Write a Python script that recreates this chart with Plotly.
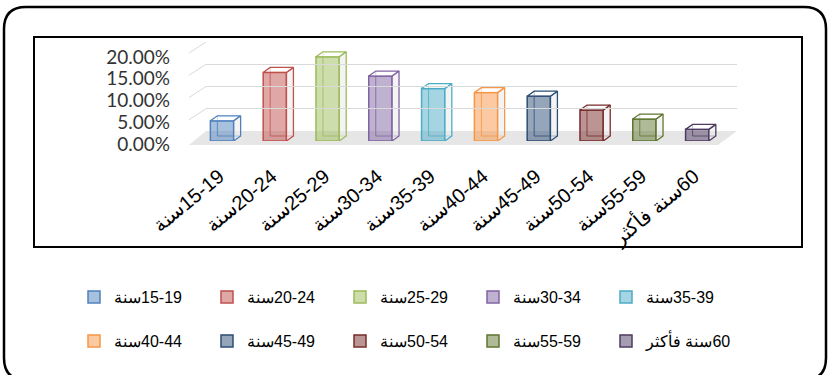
import plotly.graph_objects as go

# ---------------- data ----------------
categories = ["15-19سنة", "20-24سنة", "25-29سنة", "30-34سنة", "35-39سنة",
              "40-44سنة", "45-49سنة", "50-54سنة", "55-59سنة", "60سنة فأكثر"]
shares = [0.045, 0.153, 0.188, 0.145, 0.117, 0.108, 0.100, 0.069, 0.049, 0.026]
edge_colors = ["#4F81BD", "#C0504D", "#9BBB59", "#8064A2", "#4BACC6",
               "#F79646", "#2C4D75", "#772C2A", "#5F7530", "#4D3B62"]
y_ticks = [0, 0.05, 0.10, 0.15, 0.20]
y_tick_labels = ["0.00%", "5.00%", "10.00%", "15.00%", "20.00%"]

# ---------------- geometry helpers ----------------
W, H = 828, 375
def fx(px):
    return px / W
def fy(py):
    return 1 - py / H

RLM = "\u200f"  # display the Arabic/number labels right-to-left like the source

def rgba(hexc, a):
    hexc = hexc.lstrip("#")
    r, g, b = int(hexc[0:2], 16), int(hexc[2:4], 16), int(hexc[4:6], 16)
    return f"rgba({r},{g},{b},{a})"

n = len(categories)
bar_w = 0.44
px_per_unit_y = 448.0
px_per_cat = 52.8
dx = 7 / px_per_cat
dy = 5 / px_per_unit_y

fig = go.Figure()

# front faces (legend entries)
for i, (cat, v, c) in enumerate(zip(categories, shares, edge_colors)):
    fig.add_trace(go.Bar(
        x=[i], y=[v], width=bar_w, name=RLM + cat,
        marker=dict(color=rgba(c, 0.5), line=dict(color=c, width=1.5)),
        legend="legend" if i < 5 else "legend2",
        hoverinfo="skip",
    ))

# 3-D faces computed from the same values
for i, (v, c) in enumerate(zip(shares, edge_colors)):
    xl, xr = i - bar_w / 2, i + bar_w / 2
    fig.add_trace(go.Scatter(
        x=[xl + dx, xl + dx, xr + dx], y=[v + dy, dy, dy], mode="lines",
        line=dict(color=rgba(c, 0.8), width=1), showlegend=False, hoverinfo="skip"))
    fig.add_trace(go.Scatter(
        x=[xr, xr + dx, xr + dx, xr, xr], y=[0, dy, v + dy, v, 0], mode="lines",
        fill="toself", fillcolor="rgba(235,235,235,0.55)",
        line=dict(color=c, width=1.3), showlegend=False, hoverinfo="skip"))
    fig.add_trace(go.Scatter(
        x=[xl, xr, xr + dx, xl + dx, xl], y=[v, v, v + dy, v + dy, v], mode="lines",
        fill="toself", fillcolor="rgba(255,255,255,0.6)",
        line=dict(color=c, width=1.3), showlegend=False, hoverinfo="skip"))

# dummy traces so the helper axes are drawn
fig.add_trace(go.Scatter(x=[None], y=[None], xaxis="x", yaxis="y2",
                         showlegend=False, hoverinfo="skip"))
fig.add_trace(go.Scatter(x=[None], y=[None], xaxis="x3", yaxis="y3",
                         showlegend=False, hoverinfo="skip"))

# ---------------- decorations ----------------
shapes = []
L, R, T, B, r = 4, 826, 7, 380, 22
path = (f"M {fx(L + r)},{fy(T)} L {fx(R - r)},{fy(T)} Q {fx(R)},{fy(T)} {fx(R)},{fy(T + r)} "
        f"L {fx(R)},{fy(B - r)} Q {fx(R)},{fy(B)} {fx(R - r)},{fy(B)} "
        f"L {fx(L + r)},{fy(B)} Q {fx(L)},{fy(B)} {fx(L)},{fy(B - r)} "
        f"L {fx(L)},{fy(T + r)} Q {fx(L)},{fy(T)} {fx(L + r)},{fy(T)} Z")
shapes.append(dict(type="path", xref="paper", yref="paper", path=path,
                   line=dict(color="black", width=2.5), layer="below"))
shapes.append(dict(type="rect", xref="paper", yref="paper",
                   x0=fx(34), x1=fx(802), y0=fy(247), y1=fy(37),
                   line=dict(color="black", width=2), layer="below"))
floor = (f"M {fx(189)},{fy(145)} L {fx(718)},{fy(145)} L {fx(737)},{fy(131)} "
         f"L {fx(206)},{fy(131)} Z")
shapes.append(dict(type="path", xref="paper", yref="paper", path=floor,
                   fillcolor="#e6e6e6", line=dict(width=0), layer="below"))
for t in y_ticks[1:]:
    shapes.append(dict(type="line", xref="paper", yref="y3",
                       x0=fx(189), y0=t - 11 / 445, x1=fx(206), y1=t,
                       line=dict(color="#d9d9d9", width=1), layer="below"))

fig.update_layout(
    width=W, height=H, autosize=False,
    margin=dict(l=0, r=0, t=0, b=0, pad=0, autoexpand=False),
    paper_bgcolor="white", plot_bgcolor="rgba(0,0,0,0)",
    barmode="overlay",
    shapes=shapes,
    xaxis=dict(domain=[fx(195.6), fx(723.6)], range=[-0.5, n - 0.5],
               tickvals=list(range(n)), ticktext=[RLM + c for c in categories],
               tickangle=-40, showgrid=False, zeroline=False, showline=False,
               ticks="", ticklabelstandoff=19, ticklabelshift=-3,
               tickfont=dict(family="Liberation Sans", size=20, color="black"),
               anchor="y", automargin=False, fixedrange=True),
    yaxis=dict(domain=[fy(141), fy(41)], range=[0, 100 / px_per_unit_y],
               showgrid=False, zeroline=False, showline=False,
               showticklabels=False, ticks="", automargin=False, fixedrange=True),
    yaxis2=dict(domain=[fy(144), fy(57)], range=[0, 0.2], anchor="free",
                position=fx(170), side="left",
                tickvals=y_ticks, ticktext=y_tick_labels,
                showgrid=False, zeroline=False, showline=False, ticks="",
                tickfont=dict(family="Lato", size=19, color="#333333"),
                automargin=False, fixedrange=True),
    xaxis3=dict(domain=[fx(206), fx(737)], range=[0, 1], visible=False,
                anchor="y3", fixedrange=True),
    yaxis3=dict(domain=[fy(131), fy(42)], range=[0, 0.2], anchor="x3",
                tickvals=y_ticks[1:], showgrid=True, gridcolor="#d9d9d9",
                gridwidth=1, zeroline=False, showline=False,
                showticklabels=False, ticks="", automargin=False, fixedrange=True),
    legend=dict(orientation="h", x=fx(74), xanchor="left", y=fy(297),
                yanchor="middle", entrywidth=88, entrywidthmode="pixels",
                font=dict(family="Liberation Sans", size=16, color="black"),
                bgcolor="rgba(0,0,0,0)"),
    legend2=dict(orientation="h", x=fx(74), xanchor="left", y=fy(341),
                 yanchor="middle", entrywidth=88, entrywidthmode="pixels",
                 font=dict(family="Liberation Sans", size=16, color="black"),
                 bgcolor="rgba(0,0,0,0)"),
    showlegend=True,
)

fig.write_html("out.html")
